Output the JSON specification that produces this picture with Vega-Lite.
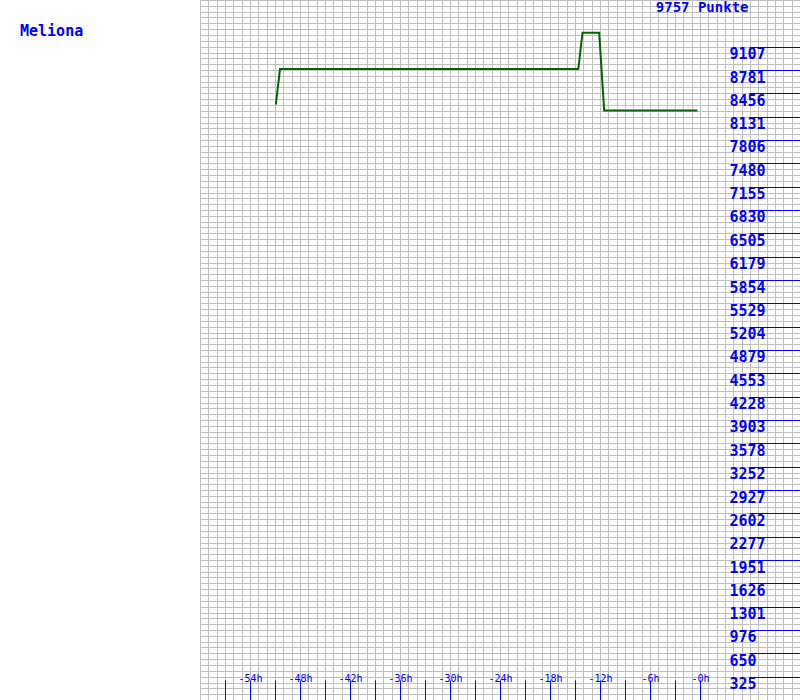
{
  "$schema": "https://vega.github.io/schema/vega-lite/v6.json",
  "width": 600,
  "height": 700,
  "autosize": {"type": "none"},
  "padding": {"left": 200, "top": 0, "right": 0, "bottom": 0},
  "background": "white",
  "title": {
    "text": "Meliona",
    "anchor": "start",
    "frame": "group",
    "orient": "top",
    "dx": -180,
    "offset": -51,
    "baseline": "alphabetic",
    "font": "DejaVu Sans Mono",
    "fontSize": 15,
    "fontWeight": "bold",
    "color": "#0000ff"
  },
  "data": {
    "values": [
      {"t": -50.9, "v": 8298},
      {"t": -50.4, "v": 8795},
      {"t": -14.6, "v": 8795},
      {"t": -14.1, "v": 9301},
      {"t": -12.1, "v": 9301},
      {"t": -11.5, "v": 8216},
      {"t": -0.3, "v": 8216}
    ]
  },
  "layer": [
    {
      "mark": {"type": "line", "color": "#006400", "strokeWidth": 2, "interpolate": "linear"},
      "encoding": {
        "x": {
          "field": "t", "type": "quantitative",
          "scale": {"domain": [-60, 12], "nice": false, "zero": false},
          "axis": {
            "orient": "bottom", "title": null, "domain": false, "ticks": false, "labels": false,
            "grid": true, "gridColor": "#c0c0c0", "gridWidth": 1, "gridOpacity": 1,
            "values": [-60,-59,-58,-57,-56,-55,-54,-53,-52,-51,-50,-49,-48,-47,-46,-45,-44,-43,-42,-41,-40,-39,-38,-37,-36,-35,-34,-33,-32,-31,-30,-29,-28,-27,-26,-25,-24,-23,-22,-21,-20,-19,-18,-17,-16,-15,-14,-13,-12,-11,-10,-9,-8,-7,-6,-5,-4,-3,-2,-1,0,1,2,3,4,5,6,7,8,9,10,11,12]
          }
        },
        "y": {
          "field": "v", "type": "quantitative",
          "scale": {"domain": [0, 9757], "nice": false, "zero": false},
          "axis": {
            "orient": "left", "title": null, "domain": false, "ticks": false, "labels": false,
            "grid": true, "gridColor": "#c0c0c0", "gridWidth": 1, "gridOpacity": 1,
            "values": [0,81.3,162.6,243.9,325.2,406.5,487.9,569.2,650.5,731.8,813.1,894.4,975.7,1057.0,1138.3,1219.6,1300.9,1382.2,1463.6,1544.9,1626.2,1707.5,1788.8,1870.1,1951.4,2032.7,2114.0,2195.3,2276.6,2357.9,2439.3,2520.6,2601.9,2683.2,2764.5,2845.8,2927.1,3008.4,3089.7,3171.0,3252.3,3333.6,3415.0,3496.3,3577.6,3658.9,3740.2,3821.5,3902.8,3984.1,4065.4,4146.7,4228.0,4309.3,4390.7,4472.0,4553.3,4634.6,4715.9,4797.2,4878.5,4959.8,5041.1,5122.4,5203.7,5285.0,5366.4,5447.7,5529.0,5610.3,5691.6,5772.9,5854.2,5935.5,6016.8,6098.1,6179.4,6260.7,6342.1,6423.4,6504.7,6586.0,6667.3,6748.6,6829.9,6911.2,6992.5,7073.8,7155.1,7236.4,7317.8,7399.1,7480.4,7561.7,7643.0,7724.3,7805.6,7886.9,7968.2,8049.5,8130.8,8212.1,8293.5,8374.8,8456.1,8537.4,8618.7,8700.0,8781.3,8862.6,8943.9,9025.2,9106.5,9187.8,9269.2,9350.5,9431.8,9513.1,9594.4,9675.7,9757]
          }
        }
      }
    },
    {
      "mark": {"type": "point", "opacity": 0},
      "encoding": {
        "x": {
          "field": "t", "type": "quantitative",
          "scale": {"domain": [-60, 12], "nice": false, "zero": false},
          "axis": {
            "orient": "bottom", "offset": -20, "title": null, "domain": false, "grid": false,
            "zindex": 1, "labels": false,
            "values": [-57,-54,-51,-48,-45,-42,-39,-36,-33,-30,-27,-24,-21,-18,-15,-12,-9,-6,-3,0],
            "ticks": true, "tickSize": 20, "tickWidth": 1, "tickOpacity": 1, "tickColor": "#0000ff"
          }
        },
        "y": {
          "field": "v", "type": "quantitative",
          "scale": {"domain": [0, 9757], "nice": false, "zero": false},
          "axis": {
            "orient": "right", "offset": -51, "domain": false, "grid": false,
            "zindex": 1,
            "values": [325,650,976,1301,1626,1951,2277,2602,2927,3252,3578,3903,4228,4553,4879,5204,5529,5854,6179,6505,6830,7155,7480,7806,8131,8456,8781,9107],
            "ticks": true, "tickSize": 51, "tickWidth": 1, "tickOpacity": 1, "tickColor": "#0000ff",
            "format": "d",
            "labelColor": "#0000ff", "labelFont": "DejaVu Sans Mono", "labelFontSize": 15, "labelFontWeight": "bold",
            "labelAlign": "left", "labelBaseline": "alphabetic", "labelPadding": -71, "labelOffset": 12,
            "labelOverlap": false, "labelFlush": false, "labelBound": false,
            "title": "9757 Punkte", "titleX": -1, "titleY": 11.3, "titleAngle": 0,
            "titleAlign": "right", "titleBaseline": "alphabetic",
            "titleFont": "DejaVu Sans Mono", "titleFontSize": 14, "titleFontWeight": "bold", "titleColor": "#0000ff"
          }
        }
      }
    },
    {
      "mark": {"type": "point", "opacity": 0},
      "encoding": {
        "x": {
          "field": "t", "type": "quantitative",
          "scale": {"domain": [-60, 12], "nice": false, "zero": false},
          "axis": {
            "orient": "bottom", "offset": -20, "title": null, "domain": false, "grid": false,
            "zindex": 1, "ticks": false,
            "values": [-54,-48,-42,-36,-30,-24,-18,-12,-6,0],
            "labelExpr": "datum.value == 0 ? '-0h' : datum.value + 'h'",
            "labelColor": "#0000ff", "labelFont": "DejaVu Sans Mono", "labelFontSize": 10,
            "labelAlign": "center", "labelBaseline": "alphabetic", "labelPadding": 1,
            "labelOverlap": false, "labelFlush": false, "labelBound": false
          }
        }
      }
    }
  ],
  "resolve": {"axis": {"x": "independent", "y": "independent"}},
  "config": {"view": {"stroke": null}, "axis": {"tickColor": "#0000ff"}}
}
